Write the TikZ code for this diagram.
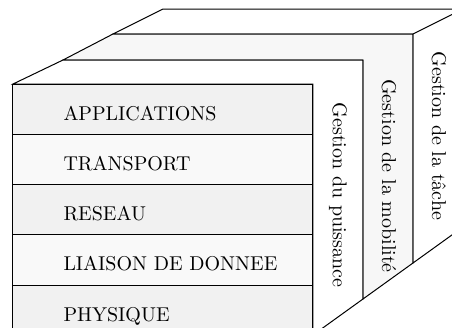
\documentclass[tikz,border=0pt]{standalone}
\begin{document}
\begin{tikzpicture}[x=0.5pt,y=-0.5pt,line width=0.5pt,
  darkrow/.style={fill=gray!11},
  lightrow/.style={fill=gray!5},
  rowlabel/.style={anchor=base west,inner sep=0pt,font=\normalsize},
  sidelabel/.style={rotate=-90,anchor=center,inner sep=0pt}]
\useasboundingbox (0,0) rectangle (452,328);
\clip (0,0) rectangle (452,328);
% layer 3 (back)
\filldraw[fill=white] (113,34) -- (163,9) -- (470,9) -- (470,222) -- (463,227) -- (413,263) -- (413,34) -- cycle;
\draw (413,34) -- (463,9);
% layer 2
\filldraw[fill=gray!6] (63,60) -- (113,34) -- (413,34) -- (413,263) -- (363,299) -- (363,60) -- cycle;
% layer 1
\filldraw[fill=white] (13,84) -- (63,60) -- (363,60) -- (363,299) -- (313,335) -- (313,84) -- cycle;
% front rows
\coordinate (r0) at (13,84);
\filldraw[darkrow]  (13,84)     rectangle (313,134.25);
\filldraw[lightrow] (13,134.25) rectangle (313,184.5);
\filldraw[darkrow]  (13,184.5)  rectangle (313,234.75);
\filldraw[lightrow] (13,234.75) rectangle (313,285);
\filldraw[darkrow]  (13,285)    rectangle (313,335.25);
\node[rowlabel] (app) at (63,120) {APPLICATIONS};
\node[rowlabel] (tra) at (63,170.25) {TRANSPORT};
\node[rowlabel] (res) at (63,220.5) {RESEAU};
\node[rowlabel] (lia) at (63,270.75) {LIAISON DE DONNEE};
\node[rowlabel] (phy) at (63,321) {PHYSIQUE};
% side labels
\node[sidelabel] (pui) at (338,195) {Gestion du puissance};
\node[sidelabel] (mob) at (389,176) {Gestion de la mobilité};
\node[sidelabel] (tac) at (439,136) {Gestion de la tâche};
\end{tikzpicture}
\end{document}
